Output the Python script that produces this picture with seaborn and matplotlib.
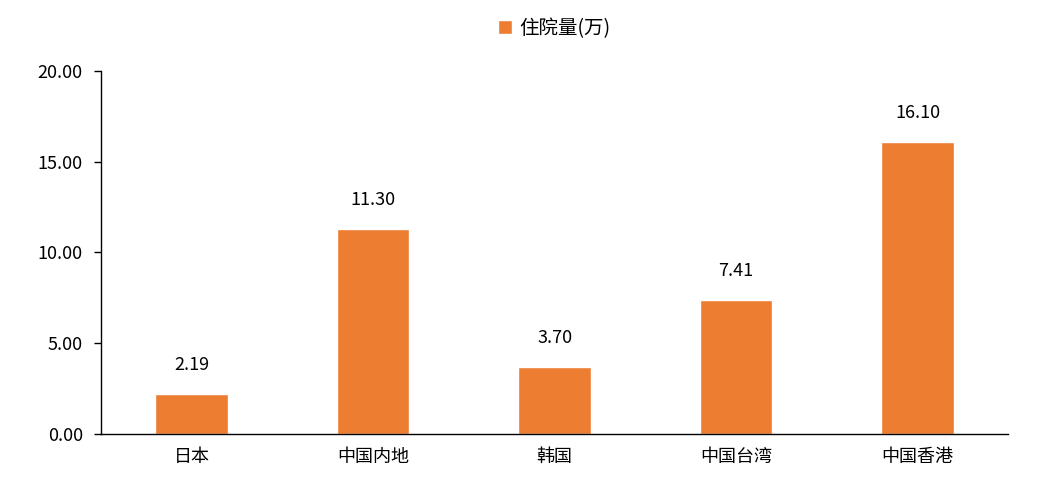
import matplotlib
matplotlib.use("Agg")
import matplotlib.pyplot as plt
import seaborn as sns
import numpy as np
import pandas as pd

categories = ["日本", "中国内地", "韩国", "中国台湾", "中国香港"]
values = [2.19, 11.30, 3.70, 7.41, 16.10]
series_name = "住院量(万)"

sns.set_style("white")
plt.rcParams['font.family'] = ['Noto Sans CJK SC', 'DejaVu Sans']
plt.rcParams['text.color'] = 'black'

fig = plt.figure(figsize=(10.38, 4.95), dpi=100)
ax = fig.add_axes([0.0973, 0.123, 0.874, 0.734])
df = pd.DataFrame({"cat": categories, "val": values})
sns.barplot(data=df, x="cat", y="val", color="#ED7D31", width=0.4, ax=ax, label=series_name, saturation=1)
ax.set_xlim(-0.5, 4.5)
ax.set_ylim(0, 20)
ax.set_yticks(np.arange(0, 20.01, 5))
ax.set_yticklabels([f"{v:.2f}" for v in np.arange(0, 20.01, 5)], fontsize=13, color='black')
ax.set_xticks(range(len(categories)))
ax.set_xticklabels(categories, fontsize=13, color='black')
ax.set_xticks(np.arange(-0.5, 4.6, 1), minor=True)
ax.tick_params(axis='x', which='major', length=0, pad=10)
ax.tick_params(axis='x', which='minor', length=5, width=1, color='black', direction='out')
ax.tick_params(axis='y', length=5, width=1, color='black', direction='out', left=True, pad=8)
ax.set_xlabel("")
ax.set_ylabel("")
for s in ["top", "right"]:
    ax.spines[s].set_visible(False)
for s in ["left", "bottom"]:
    ax.spines[s].set_color("black")
    ax.spines[s].set_linewidth(1)
for i, v in enumerate(values):
    ax.text(i, v + 1.1, f"{v:.2f}", ha="center", va="bottom", fontsize=13, color='black')
leg = ax.legend(loc="lower center", bbox_to_anchor=(0.5, 1.04), frameon=False, fontsize=14,
                handlelength=0.7, handleheight=0.7, handletextpad=0.4)
fig.savefig("out.png", dpi=100)
